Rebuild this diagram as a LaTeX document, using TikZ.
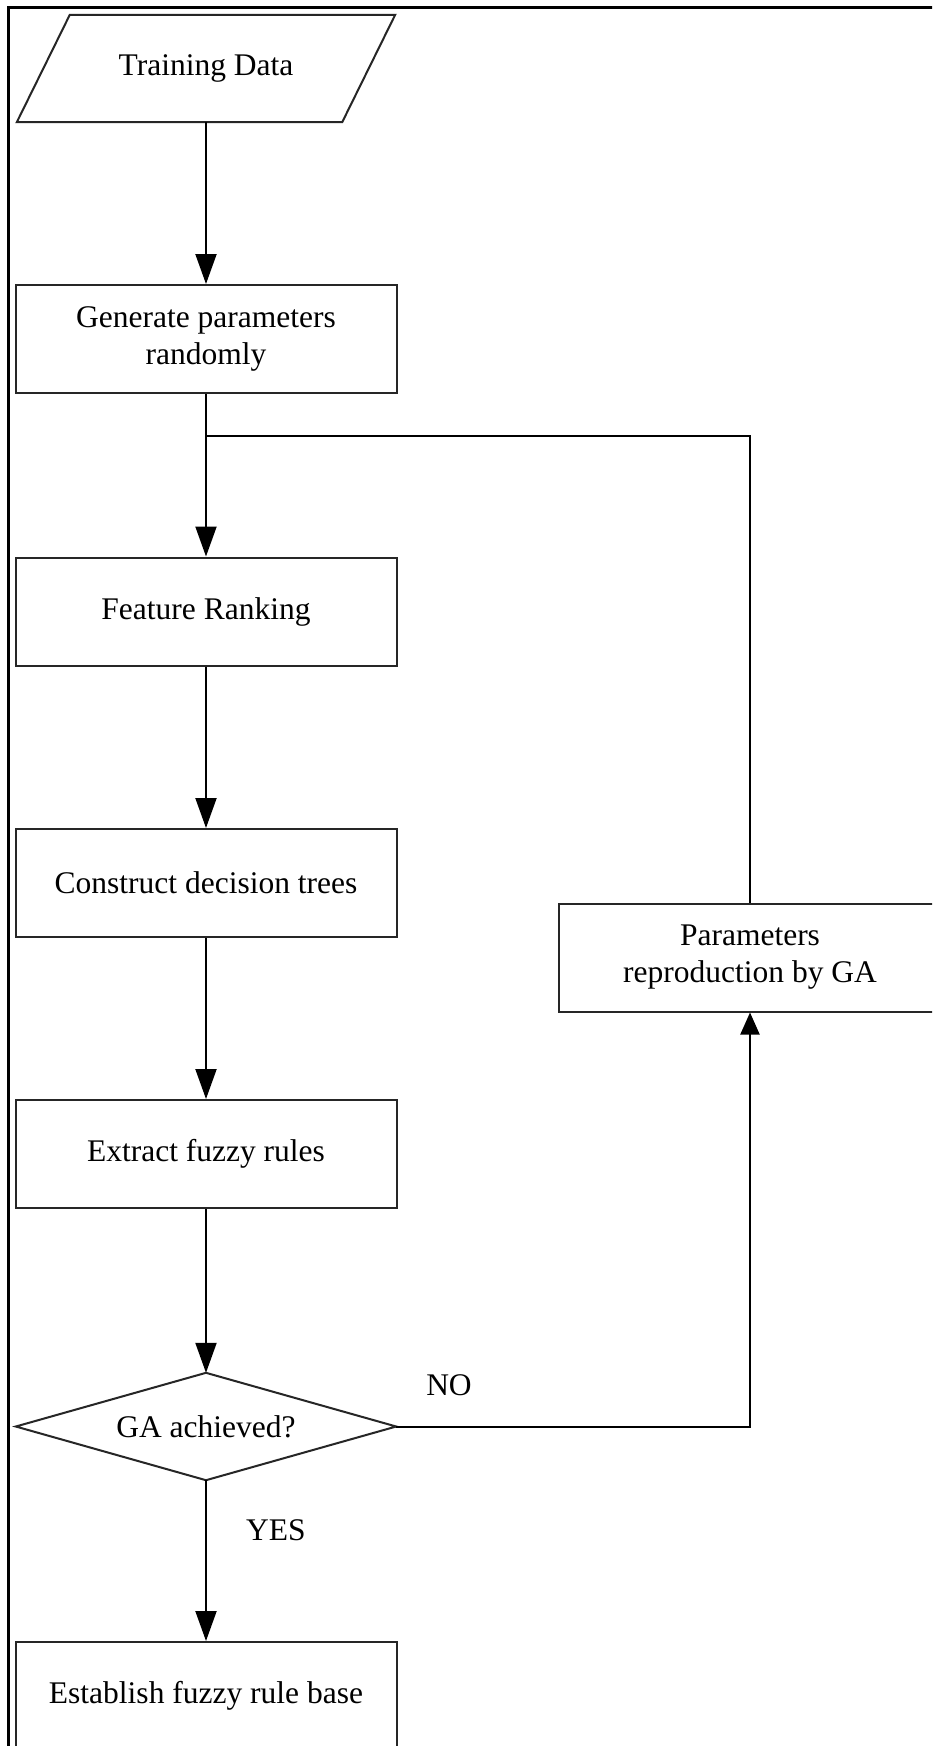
\documentclass[tikz,border=0pt]{standalone}
\usepackage{fontspec}
\setmainfont{Liberation Serif}
\usetikzlibrary{arrows.meta}

\tikzset{
  label text/.style={font=\fontsize{31.5}{37}\selectfont, text=black},
  stepbox/.style={label text, draw=black!85, line width=2pt, rectangle,
    minimum width=381pt, minimum height=108pt, inner sep=0pt, align=center},
  plainbox/.style={label text, minimum width=378pt, minimum height=107pt,
    inner sep=0pt, align=center},
  outline/.style={draw=black!85, line width=2pt, line join=miter},
  link/.style={draw=black, line width=2pt},
  downarrow/.style={link, -{Triangle[length=30pt,width=21pt]}},
  uparrow/.style={link, -{Triangle[length=22pt,width=19pt]}},
  branch/.style={label text}
}

\begin{document}
\begin{tikzpicture}[x=1pt, y=-1pt]
  \useasboundingbox (0,0) rectangle (932,1746);
  \clip (0,0) rectangle (932,1746);
  \fill[white] (0,0) rectangle (932,1746);

  % outer frame (top and left edges)
  \draw[line width=3pt, black] (8,1770) -- (8,7) -- (960,7);

  % input: parallelogram drawn around its text node
  \node[plainbox] (data) at (206,68.5) {Training Data};
  \draw[outline] (data.south west) -- ([xshift=53pt]data.north west)
    -- (data.north east) -- ([xshift=-53pt]data.south east) -- cycle;

  % process steps
  \node[stepbox] (gen)     at (206,339)    {Generate parameters\\randomly};
  \node[stepbox] (rank)    at (206,611.5)  {Feature Ranking};
  \node[stepbox] (trees)   at (206,883)    {Construct decision trees};
  \node[stepbox] (extract) at (206,1154)   {Extract fuzzy rules};

  % decision: diamond drawn around its text node
  \node[plainbox, minimum width=380pt] (ga) at (206,1426.5) {GA achieved?};
  \draw[outline] (ga.west) -- (ga.north) -- (ga.east) -- (ga.south) -- cycle;

  \node[stepbox] (base)  at (206,1696)   {Establish fuzzy rule base};
  \node[stepbox, minimum width=382pt] (repro) at (750,957.5)
    {Parameters\\reproduction by GA};

  % main flow
  \draw[downarrow] (data.south)    -- (gen.north);
  \draw[downarrow] (gen.south)     -- (rank.north);
  \draw[downarrow] (rank.south)    -- (trees.north);
  \draw[downarrow] (trees.south)   -- (extract.north);
  \draw[downarrow] (extract.south) -- (ga.north);
  \draw[downarrow] (ga.south)      -- (base.north);

  % feedback loop
  \coordinate (merge) at (206,436);
  \draw[uparrow] (ga.east) -| (repro.south);
  \draw[link] (repro.north) |- (merge);

  % branch labels
  \node[branch] (no)  at (449,1385) {NO};
  \node[branch] (yes) at (276,1530) {YES};
\end{tikzpicture}
\end{document}
